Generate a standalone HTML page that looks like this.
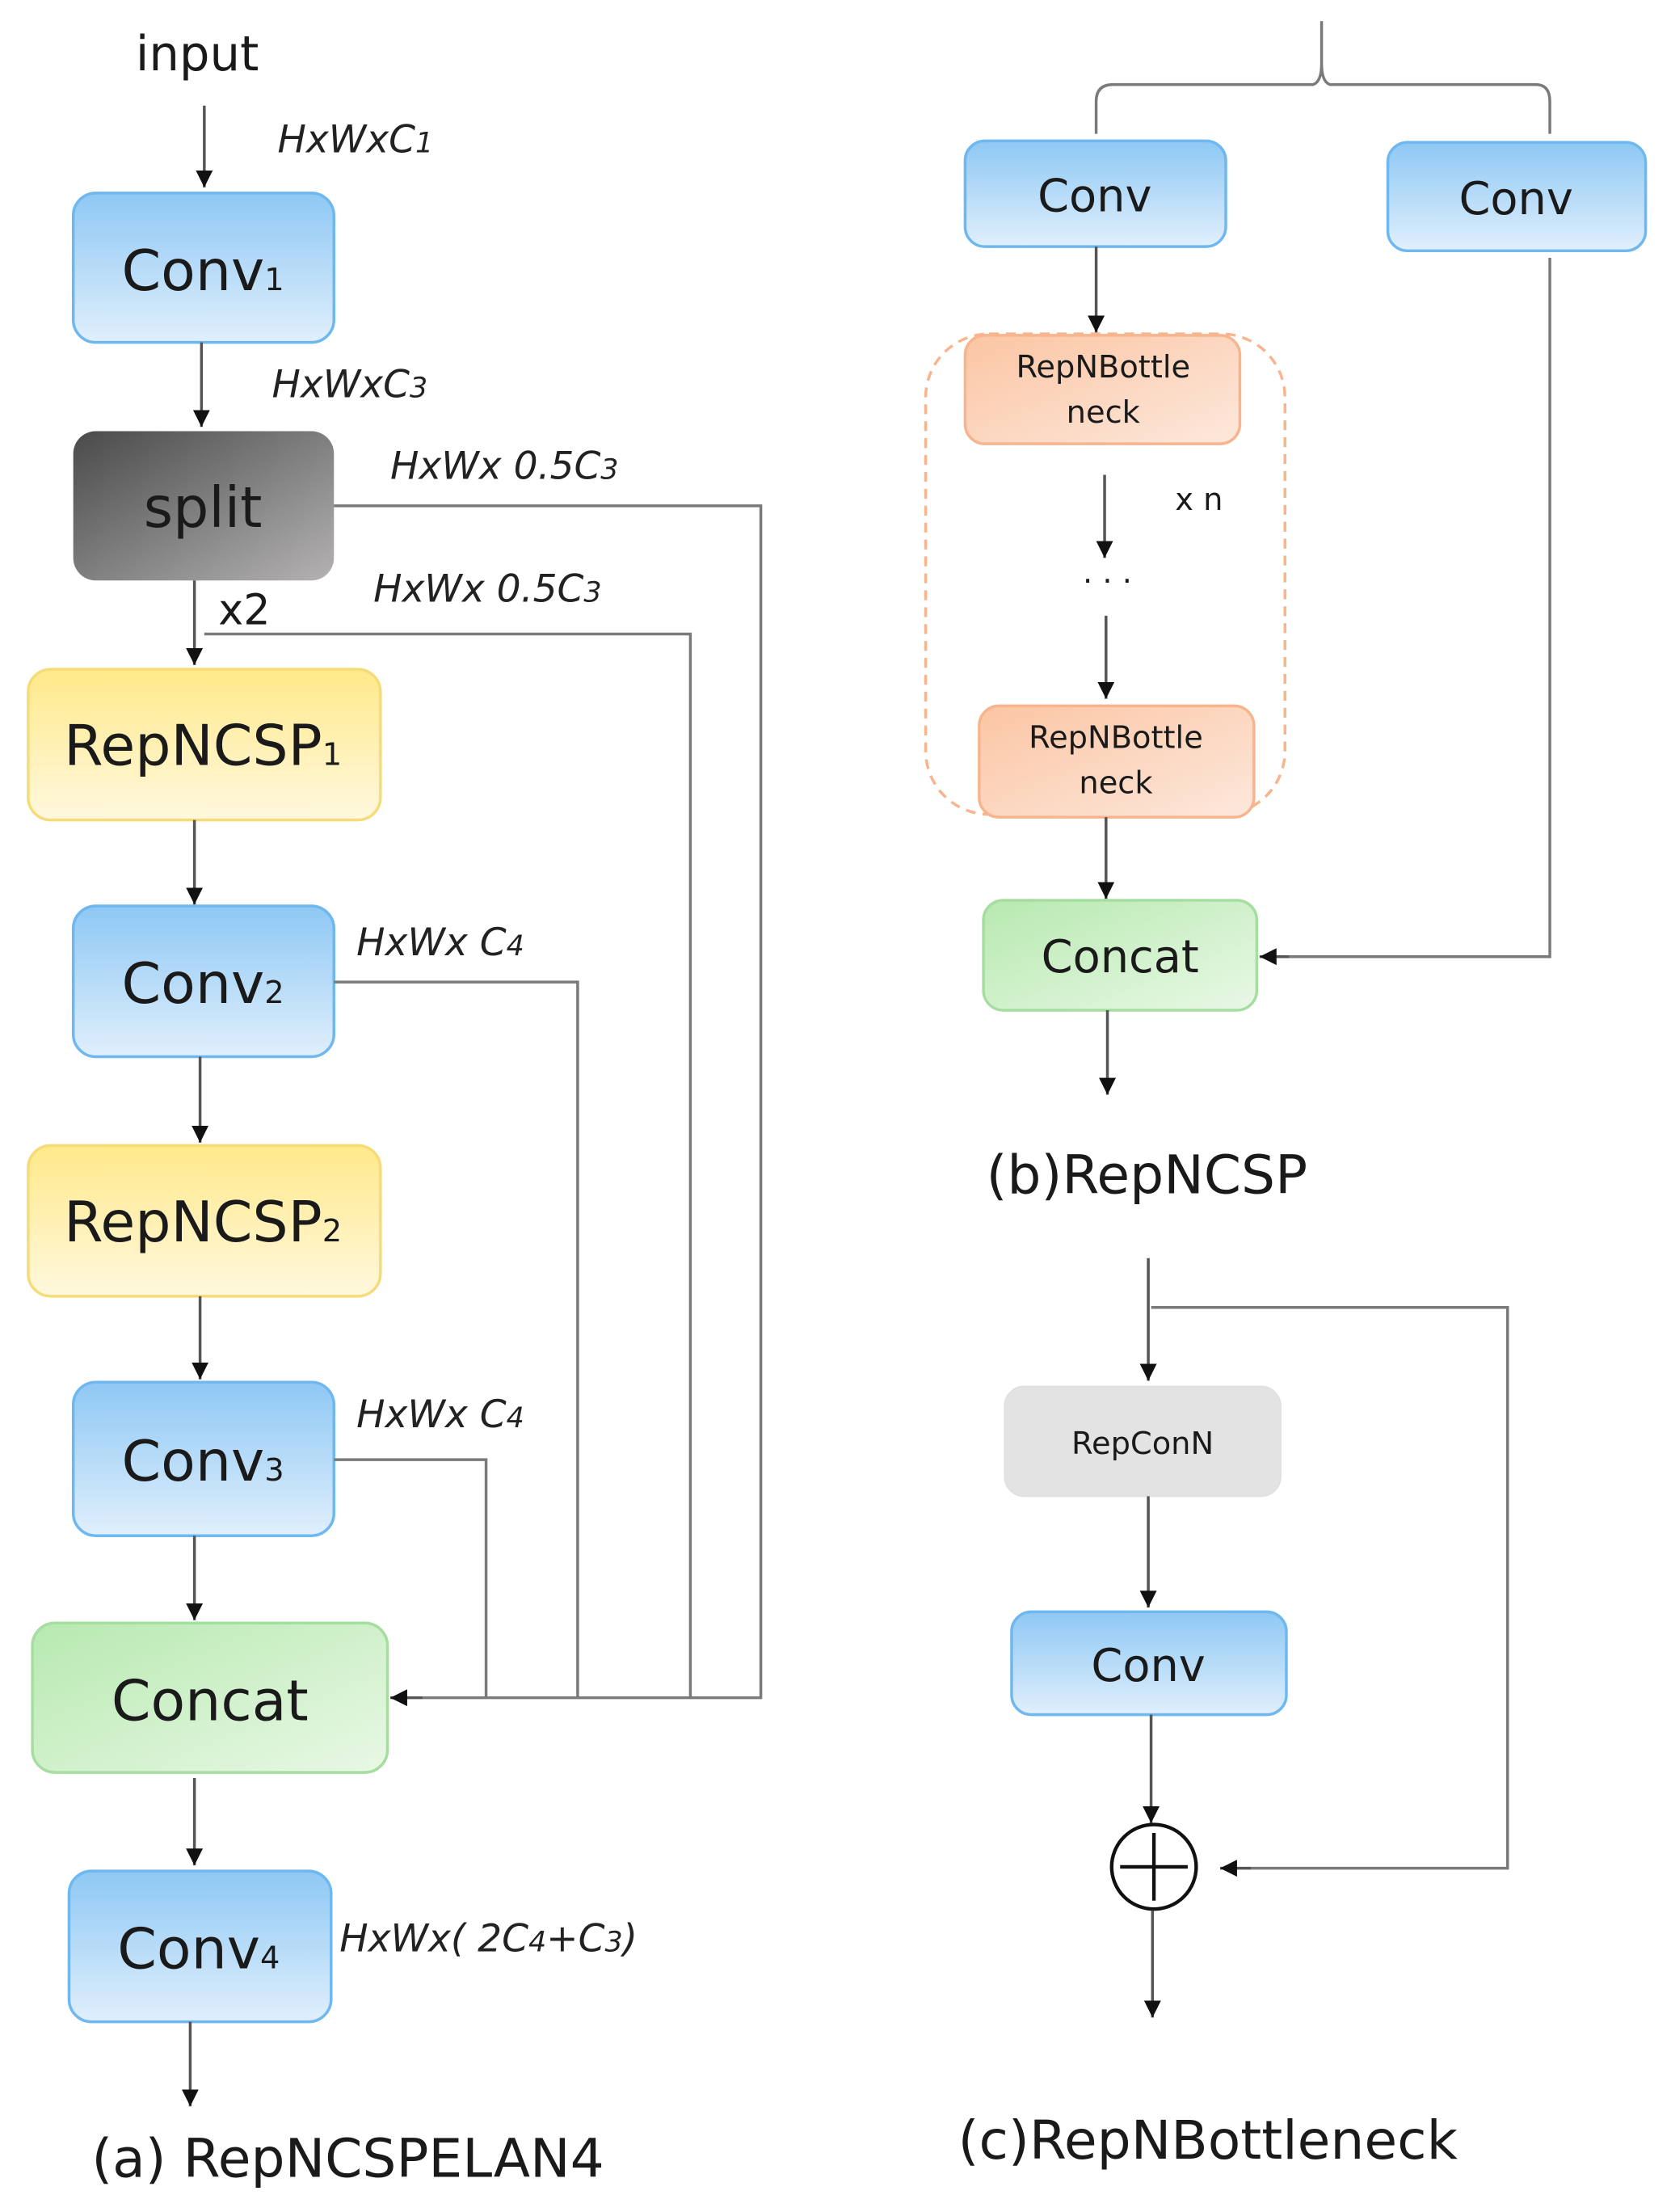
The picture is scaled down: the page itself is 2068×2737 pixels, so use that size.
<!DOCTYPE html>
<html><head><meta charset="utf-8"><style>
html,body{margin:0;padding:0;background:#fff;}
svg{display:block;}
text{font-family:"DejaVu Sans","Liberation Sans",sans-serif;fill:#1a1a1a;}
.it{font-style:italic;font-size:27px;fill:#222;}
.ln{stroke:#7a7a7a;stroke-width:2;fill:none;}
.a{stroke:#555;stroke-width:2;fill:none;marker-end:url(#ar);}
</style></head><body>
<svg width="2068" height="2737" viewBox="0 0 1186 1570" preserveAspectRatio="none" xmlns="http://www.w3.org/2000/svg">
<defs>
<linearGradient id="blue" x1="0" y1="0" x2="0" y2="1"><stop offset="0" stop-color="#8ec8f4"/><stop offset="1" stop-color="#e0effc"/></linearGradient>
<linearGradient id="yel" x1="0" y1="0" x2="0" y2="1"><stop offset="0" stop-color="#ffe98a"/><stop offset="1" stop-color="#fff8de"/></linearGradient>
<linearGradient id="grn" x1="0" y1="0" x2="1" y2="1"><stop offset="0" stop-color="#b7e9b0"/><stop offset="1" stop-color="#e9f8e6"/></linearGradient>
<linearGradient id="gry" x1="0" y1="0" x2="1" y2="1"><stop offset="0" stop-color="#4a4a4a"/><stop offset="1" stop-color="#b4b2b2"/></linearGradient>
<linearGradient id="org" x1="0" y1="0" x2="1" y2="1"><stop offset="0" stop-color="#fbc5a3"/><stop offset="1" stop-color="#fde8dc"/></linearGradient>
<marker id="ar" viewBox="0 0 10 10" refX="10" refY="5" markerWidth="12" markerHeight="12" orient="auto" markerUnits="userSpaceOnUse"><path d="M0,0 L10,5 L0,10z" fill="#111"/></marker>
</defs>

<!-- (a) -->
<text x="140" y="50" font-size="34" text-anchor="middle">input</text>
<line class="a" x1="145" y1="75" x2="145" y2="133"/>
<text class="it" x="197" y="108">HxWxC<tspan font-size="20">1</tspan></text>
<rect x="52" y="137" width="185" height="106" rx="16" fill="url(#blue)" stroke="#6fb8ef" stroke-width="2"/>
<text x="144" y="206" font-size="40" text-anchor="middle">Conv<tspan font-size="22">1</tspan></text>
<line class="a" x1="143" y1="243" x2="143" y2="303"/>
<text class="it" x="193" y="282">HxWxC<tspan font-size="20">3</tspan></text>
<rect x="52" y="306" width="185" height="106" rx="16" fill="url(#gry)"/>
<text x="144" y="374" font-size="40" text-anchor="middle">split</text>
<text class="it" x="277" y="340">HxWx 0.5C<tspan font-size="20">3</tspan></text>
<polyline class="ln" points="237,359 540,359 540,1205 300,1205"/>
<line class="a" x1="300" y1="1205" x2="277" y2="1205"/>
<text x="155" y="443" font-size="30">x2</text>
<line class="a" x1="138" y1="412" x2="138" y2="472"/>
<text class="it" x="265" y="427">HxWx 0.5C<tspan font-size="20">3</tspan></text>
<polyline class="ln" points="145,450 490,450 490,1205"/>
<rect x="20" y="475" width="250" height="107" rx="16" fill="url(#yel)" stroke="#f6dc78" stroke-width="2"/>
<text x="144" y="543" font-size="40" text-anchor="middle">RepNCSP<tspan font-size="22">1</tspan></text>
<line class="a" x1="138" y1="582" x2="138" y2="642"/>
<rect x="52" y="643" width="185" height="107" rx="16" fill="url(#blue)" stroke="#6fb8ef" stroke-width="2"/>
<text x="144" y="712" font-size="40" text-anchor="middle">Conv<tspan font-size="22">2</tspan></text>
<text class="it" x="253" y="678">HxWx C<tspan font-size="20">4</tspan></text>
<polyline class="ln" points="237,697 410,697 410,1205"/>
<line class="a" x1="142" y1="750" x2="142" y2="811"/>
<rect x="20" y="813" width="250" height="107" rx="16" fill="url(#yel)" stroke="#f6dc78" stroke-width="2"/>
<text x="144" y="881" font-size="40" text-anchor="middle">RepNCSP<tspan font-size="22">2</tspan></text>
<line class="a" x1="142" y1="920" x2="142" y2="979"/>
<rect x="52" y="981" width="185" height="109" rx="16" fill="url(#blue)" stroke="#6fb8ef" stroke-width="2"/>
<text x="144" y="1051" font-size="40" text-anchor="middle">Conv<tspan font-size="22">3</tspan></text>
<text class="it" x="253" y="1013">HxWx C<tspan font-size="20">4</tspan></text>
<polyline class="ln" points="237,1036 345,1036 345,1205"/>
<line class="a" x1="138" y1="1090" x2="138" y2="1150"/>
<rect x="23" y="1152" width="252" height="106" rx="16" fill="url(#grn)" stroke="#a6dda0" stroke-width="2"/>
<text x="149" y="1221" font-size="40" text-anchor="middle">Concat</text>
<line class="a" x1="138" y1="1262" x2="138" y2="1324"/>
<rect x="49" y="1328" width="186" height="107" rx="16" fill="url(#blue)" stroke="#6fb8ef" stroke-width="2"/>
<text x="141" y="1397" font-size="40" text-anchor="middle">Conv<tspan font-size="22">4</tspan></text>
<text class="it" x="241" y="1385">HxWx( 2C<tspan font-size="20">4</tspan>+C<tspan font-size="20">3</tspan>)</text>
<line class="a" x1="135" y1="1435" x2="135" y2="1495"/>
<text x="65" y="1545" font-size="38">(a)  RepNCSPELAN4</text>

<!-- (b) -->
<path class="ln" d="M938,15 L938,45 Q938,58 932,60 L790,60 Q778,60 778,72 L778,95 M938,45 Q938,58 944,60 L1090,60 Q1100,60 1100,72 L1100,95"/>
<rect x="685" y="100" width="185" height="75" rx="14" fill="url(#blue)" stroke="#6fb8ef" stroke-width="2"/>
<text x="777" y="150" font-size="32" text-anchor="middle">Conv</text>
<rect x="985" y="101" width="183" height="77" rx="14" fill="url(#blue)" stroke="#6fb8ef" stroke-width="2"/>
<text x="1076" y="152" font-size="32" text-anchor="middle">Conv</text>
<line class="a" x1="778" y1="175" x2="778" y2="236"/>
<rect x="657" y="237" width="255" height="341" rx="45" fill="none" stroke="#f6b58e" stroke-width="2" stroke-dasharray="7,5"/>
<rect x="685" y="238" width="195" height="77" rx="14" fill="url(#org)" stroke="#f6b58e" stroke-width="2"/>
<text x="783" y="268" font-size="22" text-anchor="middle">RepNBottle</text>
<text x="783" y="300" font-size="22" text-anchor="middle">neck</text>
<line class="a" x1="784" y1="337" x2="784" y2="396"/>
<text x="834" y="362" font-size="22">x n</text>
<text x="786" y="420" font-size="22" text-anchor="middle">· · ·</text>
<line class="a" x1="785" y1="437" x2="785" y2="496"/>
<rect x="695" y="501" width="195" height="79" rx="14" fill="url(#org)" stroke="#f6b58e" stroke-width="2"/>
<text x="792" y="531" font-size="22" text-anchor="middle">RepNBottle</text>
<text x="792" y="563" font-size="22" text-anchor="middle">neck</text>
<line class="a" x1="785" y1="580" x2="785" y2="638"/>
<rect x="698" y="639" width="194" height="78" rx="14" fill="url(#grn)" stroke="#a6dda0" stroke-width="2"/>
<text x="795" y="690" font-size="32" text-anchor="middle">Concat</text>
<polyline class="ln" points="1100,183 1100,679 915,679"/>
<line class="a" x1="915" y1="679" x2="894" y2="679"/>
<line class="a" x1="786" y1="717" x2="786" y2="777"/>
<text x="700" y="847" font-size="38">(b)RepNCSP</text>

<!-- (c) -->
<line class="a" x1="815" y1="893" x2="815" y2="980"/>
<polyline class="ln" points="817,928 1070,928 1070,1326 888,1326"/>
<line class="a" x1="888" y1="1326" x2="866" y2="1326"/>
<rect x="713" y="984" width="196" height="78" rx="14" fill="#e3e3e3" stroke="#e0e0e0"/>
<text x="811" y="1032" font-size="22" text-anchor="middle">RepConN</text>
<line class="a" x1="815" y1="1062" x2="815" y2="1141"/>
<rect x="718" y="1144" width="195" height="73" rx="14" fill="url(#blue)" stroke="#6fb8ef" stroke-width="2"/>
<text x="815" y="1193" font-size="32" text-anchor="middle">Conv</text>
<line class="a" x1="817" y1="1217" x2="817" y2="1294"/>
<circle cx="819" cy="1325" r="30" fill="none" stroke="#111" stroke-width="2.5"/>
<line x1="795" y1="1325" x2="843" y2="1325" stroke="#111" stroke-width="2.5"/>
<line x1="819" y1="1301" x2="819" y2="1349" stroke="#111" stroke-width="2.5"/>
<line class="a" x1="818" y1="1356" x2="818" y2="1432"/>
<text x="680" y="1532" font-size="38">(c)RepNBottleneck</text>
</svg>
</body></html>
